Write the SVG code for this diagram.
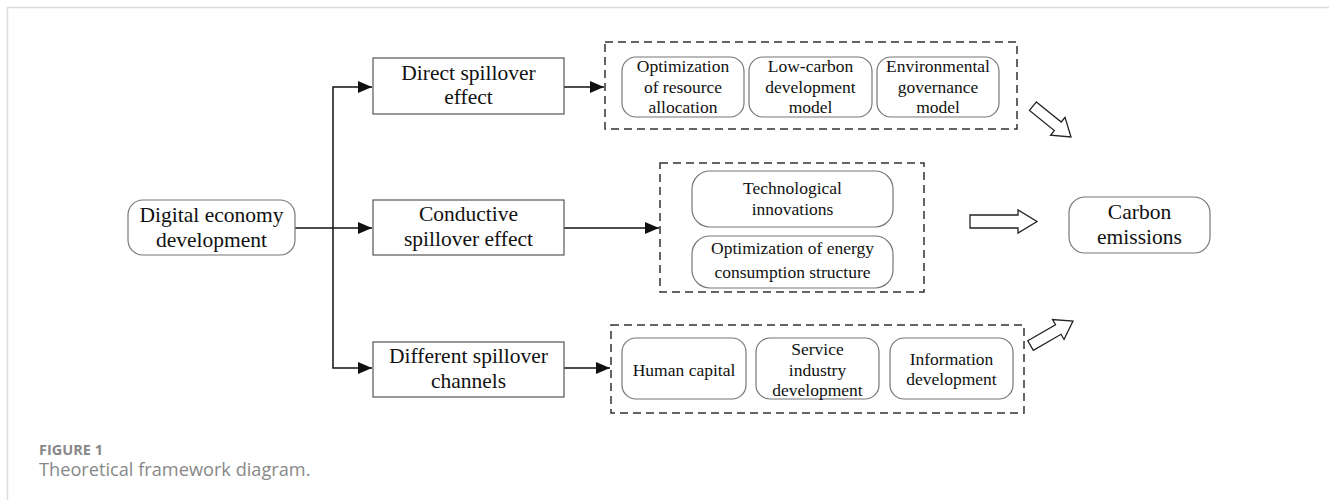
<svg xmlns="http://www.w3.org/2000/svg" width="1329" height="500" viewBox="0 0 1329 500">
  <style>
    .frame { fill: none; stroke: #dcdcdc; stroke-width: 1.5; }
    .box { fill: #fff; stroke: #555; stroke-width: 1.2; }
    .rbox { fill: #fff; stroke: #777; stroke-width: 1.2; }
    .dash { fill: none; stroke: #333; stroke-width: 1.5; stroke-dasharray: 8 5; }
    .wire { fill: none; stroke: #111; stroke-width: 1.5; }
    .hollow { fill: #fff; stroke: #222; stroke-width: 1.3; stroke-linejoin: miter; }
    .t { font-family: "Liberation Serif", "Times New Roman", serif; fill: #111; text-anchor: middle; }
    .t20 { font-size: 21.5px; }
    .t18 { font-size: 17.5px; }
    .cap1 { font-family: "Open Sans", "Liberation Sans", sans-serif; font-size: 14.5px; font-weight: bold; fill: #888; }
    .cap2 { font-family: "Open Sans", "Liberation Sans", sans-serif; font-size: 18.2px; fill: #888; }
  </style>
  <defs>
    <marker id="arrow" viewBox="0 0 14 12" refX="14" refY="6" markerWidth="14" markerHeight="12" markerUnits="userSpaceOnUse" orient="auto">
      <path d="M0,0 L14,6 L0,12 z" fill="#111"/>
    </marker>
    <!-- block arrow pointing right, tip at origin -->
    <path id="blockArrow" d="M-67,-6.5 L-19,-6.5 L-19,-11.5 L0,0 L-19,11.5 L-19,6.5 L-67,6.5 z"/>
    <path id="blockArrowShort" d="M-49,-5.5 L-17,-5.5 L-17,-11.5 L0,0 L-17,11.5 L-17,5.5 L-49,5.5 z"/>
  </defs>

  <rect width="1329" height="500" fill="#fff"/>
  <path class="frame" d="M7.5,500 L7.5,7.5 L1329,7.5"/>

  <!-- connectors -->
  <g id="connectors">
    <path class="wire" d="M333,228 L333,87 L372,87" marker-end="url(#arrow)"/>
    <path class="wire" d="M333,228 L333,368 L372,368" marker-end="url(#arrow)"/>
    <path class="wire" d="M295,228 L372,228" marker-end="url(#arrow)"/>
    <path class="wire" d="M564,87 L604,87" marker-end="url(#arrow)"/>
    <path class="wire" d="M564,228 L659,228" marker-end="url(#arrow)"/>
    <path class="wire" d="M564,368 L610,368" marker-end="url(#arrow)"/>
    <!-- hollow block arrows toward carbon emissions -->
    <use href="#blockArrowShort" class="hollow" transform="translate(1071,137) rotate(39)"/>
    <use href="#blockArrow" class="hollow" transform="translate(1037,221.5)"/>
    <use href="#blockArrowShort" class="hollow" transform="translate(1073,321) rotate(-30)"/>
  </g>

  <g id="digital-economy">
    <rect class="rbox" x="128" y="200" width="167" height="55" rx="15"/>
    <text class="t t20" x="211.5" y="222">Digital economy</text>
    <text class="t t20" x="211.5" y="247">development</text>
  </g>

  <g id="direct-spillover">
    <rect class="box" x="373" y="58" width="191" height="56"/>
    <text class="t t20" x="468.5" y="80">Direct spillover</text>
    <text class="t t20" x="468.5" y="104">effect</text>
  </g>

  <g id="conductive-spillover">
    <rect class="box" x="373" y="200" width="191" height="55"/>
    <text class="t t20" x="468.5" y="221">Conductive</text>
    <text class="t t20" x="468.5" y="246">spillover effect</text>
  </g>

  <g id="different-channels">
    <rect class="box" x="373" y="342" width="191" height="55"/>
    <text class="t t20" x="468.5" y="363">Different spillover</text>
    <text class="t t20" x="468.5" y="388">channels</text>
  </g>

  <g id="direct-mechanisms">
    <rect class="dash" x="605" y="42" width="412" height="87"/>
    <rect class="rbox" x="622" y="57" width="122" height="60" rx="14"/>
    <text class="t t18" x="683" y="72">Optimization</text>
    <text class="t t18" x="683" y="93">of resource</text>
    <text class="t t18" x="683" y="113">allocation</text>
    <rect class="rbox" x="749" y="57" width="123" height="60" rx="14"/>
    <text class="t t18" x="810.5" y="72">Low-carbon</text>
    <text class="t t18" x="810.5" y="93">development</text>
    <text class="t t18" x="810.5" y="113">model</text>
    <rect class="rbox" x="877" y="57" width="122" height="60" rx="14"/>
    <text class="t t18" x="938" y="72">Environmental</text>
    <text class="t t18" x="938" y="93">governance</text>
    <text class="t t18" x="938" y="113">model</text>
  </g>

  <g id="conductive-mechanisms">
    <rect class="dash" x="660" y="163" width="264" height="129"/>
    <rect class="rbox" x="692" y="171" width="201" height="56" rx="18"/>
    <text class="t t18" x="792.5" y="194">Technological</text>
    <text class="t t18" x="792.5" y="215">innovations</text>
    <rect class="rbox" x="692" y="236" width="201" height="52" rx="18"/>
    <text class="t t18" x="792.5" y="254">Optimization of energy</text>
    <text class="t t18" x="792.5" y="278">consumption structure</text>
  </g>

  <g id="channel-mechanisms">
    <rect class="dash" x="611" y="325" width="413" height="88"/>
    <rect class="rbox" x="622" y="338" width="124" height="61" rx="14"/>
    <text class="t t18" x="684" y="376">Human capital</text>
    <rect class="rbox" x="756" y="338" width="123" height="61" rx="14"/>
    <text class="t t18" x="817.5" y="355">Service</text>
    <text class="t t18" x="817.5" y="376">industry</text>
    <text class="t t18" x="817.5" y="396">development</text>
    <rect class="rbox" x="890" y="338" width="123" height="61" rx="14"/>
    <text class="t t18" x="951.5" y="365">Information</text>
    <text class="t t18" x="951.5" y="385">development</text>
  </g>

  <g id="carbon-emissions">
    <rect class="rbox" x="1069" y="197" width="141" height="56" rx="16"/>
    <text class="t" style="font-size:21.5px" x="1139.5" y="219">Carbon</text>
    <text class="t" style="font-size:21.5px" x="1139.5" y="244">emissions</text>
  </g>

  <g id="caption">
    <text class="cap1" x="39" y="455">FIGURE 1</text>
    <text class="cap2" x="39" y="476">Theoretical framework diagram.</text>
  </g>
</svg>
